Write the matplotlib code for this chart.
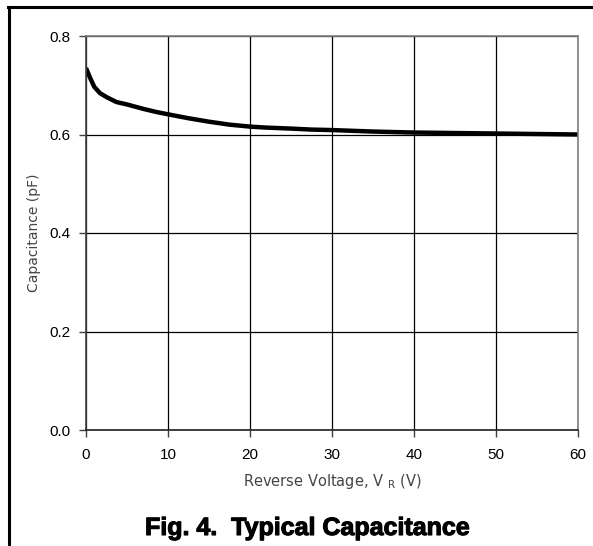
import numpy as np
import matplotlib.pyplot as plt
import matplotlib.patheffects as pe
from matplotlib.lines import Line2D

plt.rcParams['font.family'] = ['Liberation Sans', 'DejaVu Sans']
plt.rcParams['mathtext.fontset'] = 'custom'
plt.rcParams['mathtext.rm'] = 'DejaVu Sans'

# 曲线数据
vr = [0, 0.5, 1, 1.7, 2.5, 3.7, 5, 7, 8.5, 10, 12.5, 15, 17.5, 20, 22, 25,
      27.5, 30, 35, 40, 45, 50, 55, 60]
cap = [0.735, 0.715, 0.697, 0.684, 0.676, 0.666, 0.661, 0.652, 0.646, 0.641,
       0.633, 0.626, 0.62, 0.616, 0.614, 0.612, 0.61, 0.609, 0.606, 0.604,
       0.603, 0.602, 0.601, 0.600]

x_ticks = [0, 10, 20, 30, 40, 50, 60]
y_ticks = [0.0, 0.2, 0.4, 0.6, 0.8]

fig = plt.figure(figsize=(5.93, 5.46), dpi=100)
ax = fig.add_axes([86/593, 1-430/546, (578-86)/593, (430-36)/546])

ax.plot(vr, cap, color='black', lw=3.2, solid_capstyle='butt')
ax.set_xlim(0, 60)
ax.set_ylim(0, 0.8)
ax.set_xticks(x_ticks)
ax.set_yticks(y_ticks)
ax.set_yticklabels([f'{v:.1f}' for v in y_ticks])
ax.grid(True, color='black', lw=0.9)
ax.set_axisbelow(True)

for s in ax.spines.values():
    s.set_color('#808080')
    s.set_linewidth(1.2)
ax.spines['left'].set_color('#404040')
ax.spines['bottom'].set_color('#202020')

ax.tick_params(direction='out', length=5, width=1, color='#404040',
               labelsize=11, pad=6)
ax.tick_params(axis='x', pad=8)

ax.set_xlabel(r'Reverse Voltage, V $_{\rm R}$ (V)', fontsize=10.5,
              color='#454545', family='DejaVu Sans', labelpad=7)
ax.set_ylabel('Capacitance (pF)', fontsize=10, color='#454545',
              family='DejaVu Sans', labelpad=6)

fig.text(0.518, 1-535/546, 'Fig. 4.  Typical Capacitance', ha='center',
         va='baseline', fontsize=18, fontweight='bold',
         path_effects=[pe.withStroke(linewidth=0.8, foreground='black')])

# 外框（上边与左边）
fig.add_artist(Line2D([8/593, 1], [1-7/546, 1-7/546], color='black', lw=2.2,
                      transform=fig.transFigure))
fig.add_artist(Line2D([9/593, 9/593], [0, 1-7/546], color='black', lw=2.2,
                      transform=fig.transFigure))

fig.savefig('out.png', dpi=100)
